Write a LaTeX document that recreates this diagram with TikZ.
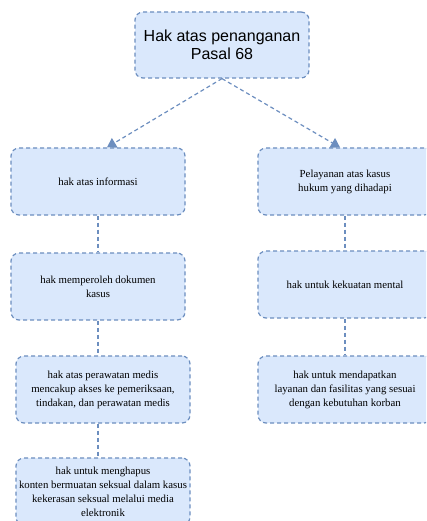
\documentclass[tikz,border=0pt]{standalone}
\usepackage{fontspec}
\setmainfont{Liberation Serif}
\newfontfamily\arialf{Liberation Sans}
\usetikzlibrary{arrows.meta,calc}
\definecolor{fillc}{HTML}{DAE8FC}
\definecolor{bordc}{HTML}{6C8EBF}
\begin{document}
\begin{tikzpicture}[x=1pt,y=-1pt,
  box/.style={draw=bordc, fill=fillc, dash pattern=on 4pt off 3pt, line width=1.2pt,
    rounded corners=8pt, minimum width=174pt, minimum height=67pt, align=center,
    font=\fontsize{10.8}{14}\selectfont, inner sep=0pt},
  link/.style={draw=bordc, dash pattern=on 4pt off 3pt, line width=1.2pt},
  arr/.style={link, -{Triangle[length=9pt,width=11pt]}}]
\useasboundingbox (0,0) rectangle (426,521);
\clip (0,0) rectangle (426,521);
\node[box, minimum height=66pt, font=\arialf\fontsize{16}{18.5}\selectfont] (top) at (222,45) {Hak atas penanganan\\Pasal 68};
\node[box] (L1) at (98,181.5) {hak atas informasi};
\node[box] (L2) at (98,286.5) {hak memperoleh dokumen\\kasus};
\node[box] (L3) at (103,389.5) {hak atas perawatan medis\\mencakup akses ke pemeriksaan,\\tindakan, dan perawatan medis};
\node[box] (L4) at (103,491.5) {hak untuk menghapus\\konten bermuatan seksual dalam kasus\\kekerasan seksual melalui media\\elektronik};
\node[box] (R1) at (345,181.5) {Pelayanan atas kasus\\hukum yang dihadapi};
\node[box] (R2) at (345,284.5) {hak untuk kekuatan mental};
\node[box] (R3) at (345,389.5) {hak untuk mendapatkan\\layanan dan fasilitas yang sesuai\\dengan kebutuhan korban};
\draw[arr] (top.south) -- ($(L1.north)+(9,0)$);
\draw[arr] (top.south) -- ($(R1.north)+(-5,0)$);
\draw[link] (L1.south) -- (L2.north);
\draw[link] (L2.south) -- (L2.south |- L3.north);
\draw[link] (L2.south |- L3.south) -- (L2.south |- L4.north);
\draw[link] (R1.south) -- (R2.north);
\draw[link] (R2.south) -- (R3.north);
\end{tikzpicture}
\end{document}
